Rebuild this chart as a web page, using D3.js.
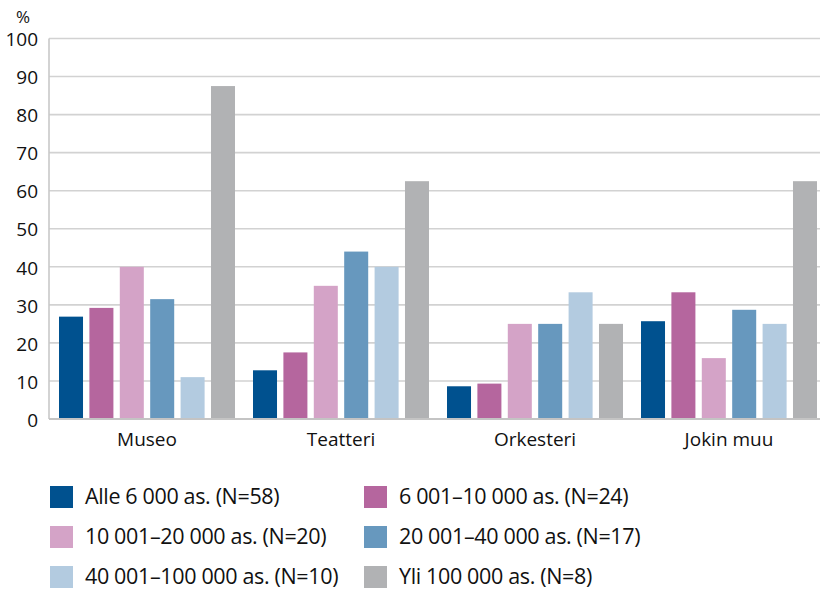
<!DOCTYPE html>
<html>
<head>
<meta charset="utf-8">
<script src="https://cdn.jsdelivr.net/npm/d3@7"></script>
<style>
  html, body { margin: 0; padding: 0; background: #fff; }
  svg { display: block; font-family: "Open Sans", sans-serif; }
</style>
</head>
<body>
<svg id="chart" width="820" height="590"></svg>
<script>
// Share of municipalities (%) by venue type and population size group
const categories = ["Museo", "Teatteri", "Orkesteri", "Jokin muu"];
const seriesNames = [
  "Alle 6 000 as. (N=58)",
  "6 001–10 000 as. (N=24)",
  "10 001–20 000 as. (N=20)",
  "20 001–40 000 as. (N=17)",
  "40 001–100 000 as. (N=10)",
  "Yli 100 000 as. (N=8)"
];
const seriesColors = ["#00518f", "#b5669e", "#d4a3c7", "#6798be", "#b3cbe0", "#b1b2b4"];
// values[category][series]
const museo     = [26.9, 29.2, 40.0, 31.5, 11.0, 87.5];
const teatteri  = [12.8, 17.5, 35.0, 44.0, 40.0, 62.5];
const orkesteri = [8.6, 9.3, 25.0, 25.0, 33.3, 25.0];
const jokinMuu  = [25.7, 33.3, 16.0, 28.7, 25.0, 62.5];
const values = [museo, teatteri, orkesteri, jokinMuu];
const yTicks = [0, 10, 20, 30, 40, 50, 60, 70, 80, 90, 100];

const svg = d3.select("#chart");
const plot = { left: 49, right: 826, top: 38.5, bottom: 419 };

const y = d3.scaleLinear().domain([0, 100]).range([plot.bottom, plot.top]);
const x0 = d3.scaleBand().domain(categories).range([50, 826]).paddingInner(0).paddingOuter(0);
const x1 = d3.scaleBand().domain(d3.range(seriesNames.length))
  .range([9, x0.bandwidth() - 9]).paddingInner(0.21).paddingOuter(0);

// horizontal gridlines
svg.append("g").selectAll("line")
  .data(yTicks.filter(d => d > 0))
  .join("line")
  .attr("x1", plot.left).attr("x2", plot.right)
  .attr("y1", d => y(d)).attr("y2", d => y(d))
  .attr("stroke", "#d2d2d2").attr("stroke-width", 1.6);

// y axis labels
const yAxis = d3.axisLeft(y).tickValues(yTicks).tickSize(0).tickPadding(11);
const gy = svg.append("g").attr("transform", `translate(${plot.left},0)`).call(yAxis);
gy.select(".domain").remove();
gy.selectAll("text")
  .attr("font-family", "Open Sans, sans-serif")
  .attr("font-size", 19)
  .attr("fill", "#111")
  .attr("dy", "0.38em");

svg.append("text").attr("x", 23).attr("y", 23)
  .attr("text-anchor", "middle").attr("font-size", 17).attr("fill", "#111").text("%");

// bars
const groups = svg.append("g").selectAll("g")
  .data(categories)
  .join("g")
  .attr("transform", d => `translate(${x0(d)},0)`);

groups.selectAll("rect")
  .data((d, i) => values[i].map((v, s) => ({ v, s })))
  .join("rect")
  .attr("x", d => x1(d.s))
  .attr("width", x1.bandwidth())
  .attr("y", d => y(d.v))
  .attr("height", d => y(0) - y(d.v))
  .attr("fill", d => seriesColors[d.s]);

// axis frame: left and bottom
svg.append("line").attr("x1", plot.left).attr("x2", plot.left)
  .attr("y1", plot.top).attr("y2", plot.bottom)
  .attr("stroke", "#c8c8c8").attr("stroke-width", 1.6);
svg.append("line").attr("x1", plot.left).attr("x2", plot.right)
  .attr("y1", plot.bottom).attr("y2", plot.bottom)
  .attr("stroke", "#c4c4c4").attr("stroke-width", 1.8);

// category labels
const xAxis = d3.axisBottom(x0).tickSize(0).tickPadding(14);
const gx = svg.append("g").attr("transform", `translate(0,${plot.bottom})`).call(xAxis);
gx.select(".domain").remove();
gx.selectAll("text")
  .attr("font-family", "Open Sans, sans-serif")
  .attr("font-size", 19)
  .attr("fill", "#111");

// legend: two columns, three rows
const legend = svg.append("g").selectAll("g")
  .data(seriesNames)
  .join("g")
  .attr("transform", (d, i) => `translate(${i % 2 === 0 ? 50 : 364},${486 + Math.floor(i / 2) * 40})`);
legend.append("rect").attr("width", 23).attr("height", 22)
  .attr("fill", (d, i) => seriesColors[i]);
legend.append("text").attr("x", 35).attr("y", 18)
  .attr("font-size", 21.5).attr("letter-spacing", -0.35).attr("fill", "#111")
  .text(d => d);
</script>
</body>
</html>
